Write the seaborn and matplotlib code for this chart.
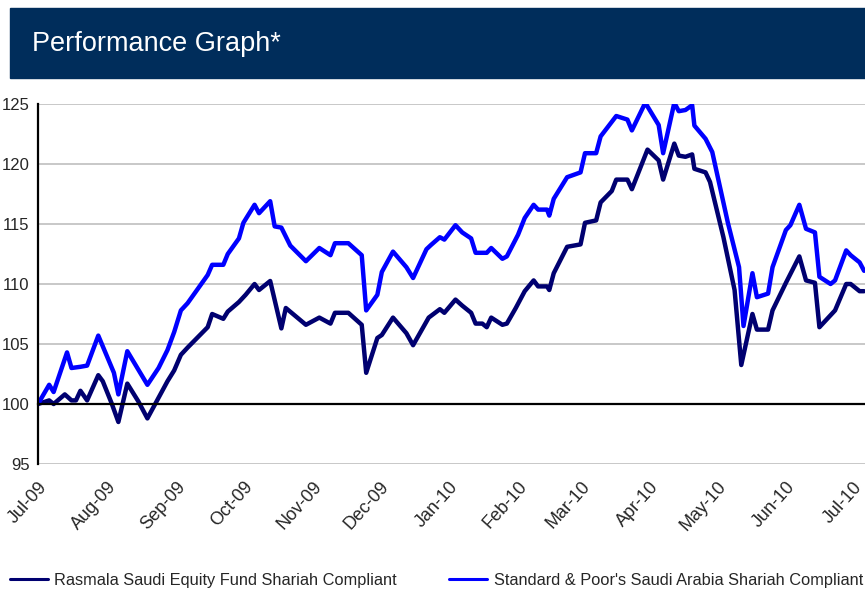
import pandas as pd
import matplotlib
matplotlib.use("Agg")
import matplotlib.pyplot as plt
import matplotlib.font_manager as fm
import seaborn as sns

# fund (dark line) - one list per month
fund_dates = (
    ["2009-07-01", "2009-07-06", "2009-07-08", "2009-07-13", "2009-07-16", "2009-07-18", "2009-07-20", "2009-07-23", "2009-07-28", "2009-07-30"]
    + ["2009-08-03", "2009-08-06", "2009-08-10", "2009-08-15", "2009-08-19", "2009-08-28", "2009-08-31"]
    + ["2009-09-03", "2009-09-06", "2009-09-15", "2009-09-17", "2009-09-22", "2009-09-24", "2009-09-29"]
    + ["2009-10-02", "2009-10-06", "2009-10-08", "2009-10-13", "2009-10-18", "2009-10-20", "2009-10-29"]
    + ["2009-11-04", "2009-11-09", "2009-11-11", "2009-11-17", "2009-11-23", "2009-11-25", "2009-11-30"]
    + ["2009-12-02", "2009-12-07", "2009-12-13", "2009-12-16", "2009-12-23", "2009-12-28", "2009-12-30"]
    + ["2010-01-04", "2010-01-07", "2010-01-11", "2010-01-13", "2010-01-16", "2010-01-18", "2010-01-20", "2010-01-25", "2010-01-27", "2010-01-31"]
    + ["2010-02-04", "2010-02-08", "2010-02-10", "2010-02-14", "2010-02-15", "2010-02-17", "2010-02-23"]
    + ["2010-03-01", "2010-03-03", "2010-03-08", "2010-03-10", "2010-03-15", "2010-03-17", "2010-03-22", "2010-03-24", "2010-03-31"]
    + ["2010-04-05", "2010-04-07", "2010-04-12", "2010-04-14", "2010-04-17", "2010-04-20", "2010-04-21", "2010-04-26", "2010-04-28"]
    + ["2010-05-04", "2010-05-09", "2010-05-12", "2010-05-17", "2010-05-19", "2010-05-24", "2010-05-26"]
    + ["2010-06-01", "2010-06-07", "2010-06-10", "2010-06-14", "2010-06-16", "2010-06-23", "2010-06-28", "2010-06-30"]
    + ["2010-07-04", "2010-07-06"]
)
fund_values = (
    [100.0, 100.3, 100.0, 100.8, 100.3, 100.3, 101.1, 100.3, 102.4, 101.9]
    + [100.05, 98.5, 101.7, 100.2, 98.8, 101.9, 102.8]
    + [104.1, 104.7, 106.4, 107.5, 107.1, 107.7, 108.5]
    + [109.1, 110.0, 109.5, 110.25, 106.3, 108.0, 106.6]
    + [107.2, 106.7, 107.6, 107.6, 106.6, 102.6, 105.5]
    + [105.75, 107.2, 105.9, 104.9, 107.2, 107.9, 107.6]
    + [108.7, 108.2, 107.6, 106.7, 106.7, 106.4, 107.2, 106.6, 106.7, 108.0]
    + [109.4, 110.3, 109.8, 109.8, 109.5, 110.9, 113.1]
    + [113.3, 115.1, 115.3, 116.8, 117.75, 118.7, 118.7, 117.9, 121.2]
    + [120.3, 118.7, 121.7, 120.7, 120.6, 120.8, 119.6, 119.3, 118.5]
    + [113.9, 109.5, 103.25, 107.5, 106.2, 106.2, 107.8]
    + [110.1, 112.3, 110.3, 110.1, 106.4, 107.8, 110.0, 110.0]
    + [109.4, 109.4]
)

# index (bright blue line)
index_dates = (
    ["2009-07-01", "2009-07-06", "2009-07-08", "2009-07-14", "2009-07-16", "2009-07-20", "2009-07-23", "2009-07-28"]
    + ["2009-08-04", "2009-08-06", "2009-08-10", "2009-08-19", "2009-08-24", "2009-08-28", "2009-08-31"]
    + ["2009-09-03", "2009-09-06", "2009-09-15", "2009-09-17", "2009-09-22", "2009-09-24", "2009-09-29"]
    + ["2009-10-01", "2009-10-06", "2009-10-08", "2009-10-13", "2009-10-15", "2009-10-18", "2009-10-22", "2009-10-29"]
    + ["2009-11-04", "2009-11-09", "2009-11-11", "2009-11-17", "2009-11-23", "2009-11-25", "2009-11-30"]
    + ["2009-12-02", "2009-12-07", "2009-12-13", "2009-12-16", "2009-12-22", "2009-12-24", "2009-12-28", "2009-12-30"]
    + ["2010-01-04", "2010-01-07", "2010-01-11", "2010-01-13", "2010-01-18", "2010-01-20", "2010-01-25", "2010-01-27"]
    + ["2010-02-01", "2010-02-04", "2010-02-08", "2010-02-10", "2010-02-14", "2010-02-15", "2010-02-17", "2010-02-23"]
    + ["2010-03-01", "2010-03-03", "2010-03-08", "2010-03-10", "2010-03-17", "2010-03-22", "2010-03-24", "2010-03-30"]
    + ["2010-04-05", "2010-04-07", "2010-04-12", "2010-04-14", "2010-04-17", "2010-04-20", "2010-04-21", "2010-04-26", "2010-04-29"]
    + ["2010-05-06", "2010-05-11", "2010-05-13", "2010-05-17", "2010-05-19", "2010-05-24", "2010-05-26"]
    + ["2010-06-01", "2010-06-03", "2010-06-07", "2010-06-10", "2010-06-14", "2010-06-16", "2010-06-21", "2010-06-23", "2010-06-28", "2010-06-30"]
    + ["2010-07-04", "2010-07-06"]
)
index_values = (
    [100.0, 101.6, 101.0, 104.3, 103.0, 103.1, 103.2, 105.7]
    + [102.6, 100.8, 104.4, 101.6, 103.0, 104.5, 106.0]
    + [107.8, 108.4, 110.75, 111.6, 111.6, 112.5, 113.8]
    + [115.1, 116.6, 115.9, 116.9, 114.8, 114.7, 113.2, 111.9]
    + [113.0, 112.4, 113.4, 113.4, 112.4, 107.8, 109.1]
    + [111.0, 112.7, 111.4, 110.5, 112.9, 113.25, 113.9, 113.7]
    + [114.9, 114.3, 113.8, 112.6, 112.6, 113.0, 112.1, 112.3]
    + [114.1, 115.5, 116.6, 116.2, 116.2, 115.7, 117.1, 118.9]
    + [119.3, 120.9, 120.9, 122.3, 124.0, 123.7, 122.8, 125.1]
    + [123.25, 120.9, 125.1, 124.4, 124.5, 124.9, 123.2, 122.1, 121.0]
    + [115.1, 111.4, 106.5, 110.9, 108.9, 109.2, 111.4]
    + [114.5, 114.9, 116.6, 114.6, 114.3, 110.6, 110.0, 110.3, 112.8, 112.4]
    + [111.8, 111.1]
)

series_names = ["Rasmala Saudi Equity Fund Shariah Compliant",
                "Standard & Poor's Saudi Arabia Shariah Compliant"]
month_ticks = pd.date_range("2009-07-01", "2010-07-01", freq="MS")
month_labels = ["Jul-09", "Aug-09", "Sep-09", "Oct-09", "Nov-09", "Dec-09", "Jan-10",
                "Feb-10", "Mar-10", "Apr-10", "May-10", "Jun-10", "Jul-10"]
y_ticks = [95, 100, 105, 110, 115, 120, 125]

df = pd.concat([
    pd.DataFrame({"date": pd.to_datetime(fund_dates), "value": fund_values, "series": series_names[0]}),
    pd.DataFrame({"date": pd.to_datetime(index_dates), "value": index_values, "series": series_names[1]}),
])

sns.set_style("white")
installed = {f.name for f in fm.fontManager.ttflist}
narrow = "Liberation Sans Narrow" if "Liberation Sans Narrow" in installed else "Liberation Sans"
plt.rcParams["font.family"] = [narrow, "DejaVu Sans"]

W, H = 865, 592
fig = plt.figure(figsize=(W / 100, H / 100), dpi=100)

# header banner
fig.patches.append(plt.Rectangle((10 / W, 1 - 78 / H), 1 - 10 / W, 70 / H,
                                 transform=fig.transFigure, color="#002D5B", zorder=0))
fig.text(32 / W, 1 - 44 / H, "Performance Graph*", color="white", fontsize=19.5,
         va="center", ha="left")

ax = fig.add_axes([38 / W, 128 / H, 1 - 38 / W, 360 / H])
sns.lineplot(data=df, x="date", y="value", hue="series", hue_order=series_names,
             palette=["#000070", "#0000FF"], linewidth=3.2, ax=ax, legend=False,
             estimator=None, sort=False)

ax.set_xlim(pd.Timestamp("2009-07-01"), pd.Timestamp("2010-07-06 10:00"))
ax.set_ylim(95, 125)
ax.set_yticks(y_ticks)
ax.set_yticklabels([str(v) for v in y_ticks])
ax.set_xlabel("")
ax.set_ylabel("")
ax.grid(axis="y", color="#C8C8C8", linewidth=1.4)
ax.set_axisbelow(True)

for s in ["top", "right"]:
    ax.spines[s].set_visible(False)
ax.spines["left"].set_color("black")
ax.spines["left"].set_linewidth(1.6)
ax.spines["bottom"].set_position(("data", 100))
ax.spines["bottom"].set_color("black")
ax.spines["bottom"].set_linewidth(1.6)

ax.set_xticks(month_ticks)
ax.tick_params(axis="x", direction="out", length=6, width=1.3, color="black", labelbottom=False)
ax.tick_params(axis="y", direction="out", length=4, width=1.3, color="black", labelsize=12, pad=2)

# month labels under the chart
for d, lab in zip(month_ticks, month_labels):
    ax.text(d, -0.04, lab, transform=ax.get_xaxis_transform(), rotation=48,
            rotation_mode="anchor", ha="right", va="top", fontsize=13)

handles = [plt.Line2D([], [], color=c, linewidth=2.2) for c in ["#000070", "#0000FF"]]
fig.legend(handles, series_names, loc="center left", bbox_to_anchor=(10 / W, 12 / H),
           ncol=2, frameon=False, fontsize=11.8, handlelength=2.3, handletextpad=0.4,
           columnspacing=3.2, borderpad=0, borderaxespad=0)

fig.savefig("out.png", dpi=100)
